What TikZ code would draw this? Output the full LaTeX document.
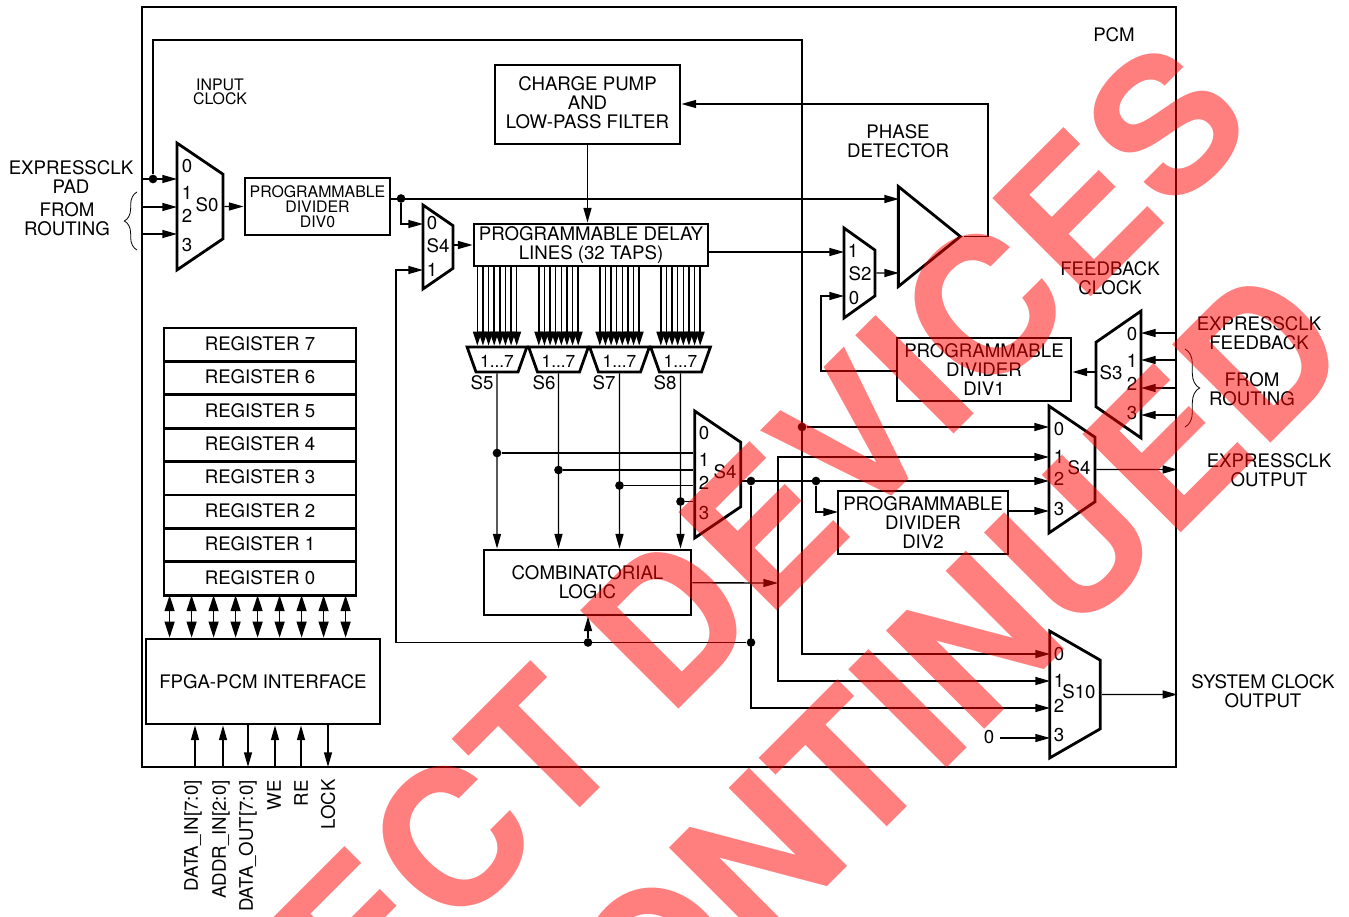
\documentclass[tikz,border=0pt]{standalone}
\usepackage{fontspec}
\setmainfont{TeX Gyre Heros}
\usepackage{tikz}
\usetikzlibrary{arrows.meta,positioning,calc,shapes.geometric,decorations.pathreplacing}

\begin{document}
\begin{tikzpicture}[
  x=0.75pt, y=-0.75pt,
  lbl/.style={inner sep=0pt, align=center, font=\fontsize{14}{14}\selectfont},
  tiny/.style={inner sep=0pt, align=center, font=\fontsize{11.9}{11}\selectfont},
  blk/.style={draw, line width=2.1pt, inner sep=0pt, align=center, font=\fontsize{14}{14}\selectfont},
  reg/.style={blk, minimum width=144pt, minimum height=25.05pt, outer sep=0pt, text depth=2pt},
  mux/.style={draw, line width=2.1pt, trapezium, trapezium stretches, trapezium angle=61, inner sep=0pt, minimum width=95.25pt, minimum height=34.5pt, shape border rotate=270},
  tapsel/.style={draw, line width=2.1pt, trapezium, trapezium stretches, trapezium angle=66, inner sep=0pt, minimum width=45pt, minimum height=18.75pt, shape border rotate=180, text height=12pt, font=\fontsize{13}{13}\selectfont},
  dot/.style={circle, fill=black, inner sep=0pt, minimum size=6.5pt},
  wire/.style={line width=1pt},
  arr/.style={wire, -{Triangle[length=11pt,width=6pt]}},
  tap/.style={line width=1.1pt, -{Triangle[length=10.5pt,width=6.5pt]}},
  bus/.style={wire, {Triangle[length=12pt,width=7.5pt]}-{Triangle[length=12pt,width=7.5pt]}},
  wmark/.style={text=red, text opacity=0.5, inner sep=0pt, rotate=45, font=\bfseries\fontsize{143}{143}\selectfont}
]
  \useasboundingbox (0,0) rectangle (1349,917);

  \node[draw, line width=2.1pt, inner sep=0pt, minimum width=775.5pt, minimum height=570pt] (pcm) at (659,387) {};

  % blocks
  \node[blk, minimum width=138.75pt, minimum height=59.25pt, text depth=3pt] (pump) at (587.5,104.5) {CHARGE PUMP\\AND\\LOW-PASS FILTER};
  \node[blk, minimum width=108.75pt, minimum height=42.75pt, font=\fontsize{11.9}{11.25}\selectfont] (div0) at (317.5,206.5) {PROGRAMMABLE\\DIVIDER\\DIV0};
  \node[blk, minimum width=175.5pt, minimum height=31.5pt] (dly) at (591,245) {PROGRAMMABLE DELAY\\LINES (32 TAPS)};
  \node[blk, minimum width=130.5pt, minimum height=47.25pt] (div1) at (984,369.5) {PROGRAMMABLE\\DIVIDER\\DIV1};
  \node[blk, minimum width=127.5pt, minimum height=47.25pt] (div2) at (923,522.5) {PROGRAMMABLE\\DIVIDER\\DIV2};
  \node[blk, minimum width=155.25pt, minimum height=48.75pt] (logic) at (587.5,582.5) {COMBINATORIAL\\LOGIC};
  \node[blk, minimum width=175.5pt, minimum height=63.75pt] (fpga) at (263,681.5) {FPGA-PCM INTERFACE};

  \node[reg] (reg7) at (260,344.7) {REGISTER 7};
  \node[reg, below=0pt of reg7] (reg6) {REGISTER 6};
  \node[reg, below=0pt of reg6] (reg5) {REGISTER 5};
  \node[reg, below=0pt of reg5] (reg4) {REGISTER 4};
  \node[reg, below=0pt of reg4] (reg3) {REGISTER 3};
  \node[reg, below=0pt of reg3] (reg2) {REGISTER 2};
  \node[reg, below=0pt of reg2] (reg1) {REGISTER 1};
  \node[reg, below=0pt of reg1] (reg0) {REGISTER 0};

  \node[draw, line width=2.1pt, isosceles triangle, isosceles triangle stretches, inner sep=0pt, minimum width=75pt, minimum height=46.5pt, anchor=apex] (pd) at (964,236.5) {\phantom{S}};

  % muxes
  \node[mux, minimum height=34.5pt] (s0) at (200,206.5) {\phantom{S}};
  \node[mux, minimum width=63pt, minimum height=22.5pt] (s4a) at (438,247) {\phantom{S}};
  \node[mux, minimum width=67.5pt, minimum height=23.25pt] (s2) at (859.5,273) {\phantom{S}};
  \node[mux, shape border rotate=90, minimum height=33.75pt] (s3) at (1118.5,374.5) {\phantom{S}};
  \node[mux] (s4b) at (1072,469.5) {\phantom{S}};
  \node[mux] (s4c) at (717.75,474.5) {\phantom{S}};
  \node[mux, minimum height=38pt, trapezium angle=64] (s10) at (1075,694.5) {\phantom{S}};

  \node[tapsel] (s5) at (497,359.5) {1...7};
  \node[tapsel] (s6) at (558.5,359.5) {1...7};
  \node[tapsel] (s7) at (619.5,359.5) {1...7};
  \node[tapsel] (s8) at (680.5,359.5) {1...7};

  % port labels
  \node[lbl] (s0n) at (207,205) {S0};
  \node[lbl] (s0a) at (187,166) {0};
  \node[lbl] (s0b) at (187,193) {1};
  \node[lbl] (s0c) at (187,216) {2};
  \node[lbl] (s0d) at (187,245) {3};
  \node[lbl] (s4an) at (438,246) {S4};
  \node[lbl] (s4aa) at (432,223) {0};
  \node[lbl] (s4ab) at (432,270) {1};
  \node[lbl] (s2n) at (860,274) {S2};
  \node[lbl] (s2a) at (853,251) {1};
  \node[lbl] (s2b) at (854,298) {0};
  \node[lbl] (s3n) at (1111,373) {S3};
  \node[lbl] (s3a) at (1132,334) {0};
  \node[lbl] (s3b) at (1132,361) {1};
  \node[lbl] (s3c) at (1132,384) {2};
  \node[lbl] (s3d) at (1132,413) {3};
  \node[lbl] (s4bn) at (1079,468) {S4};
  \node[lbl] (s4ba) at (1059,429) {0};
  \node[lbl] (s4bb) at (1059,457) {1};
  \node[lbl] (s4bc) at (1059,479) {2};
  \node[lbl] (s4bd) at (1059,509) {3};
  \node[lbl] (s4cn) at (725,472) {S4};
  \node[lbl] (s4ca) at (704,433) {0};
  \node[lbl] (s4cb) at (704,460) {1};
  \node[lbl] (s4cc) at (704,483) {2};
  \node[lbl] (s4cd) at (704,513) {3};
  \node[lbl] (s10n) at (1079,692) {S10};
  \node[lbl] (s10a) at (1059,654) {0};
  \node[lbl] (s10b) at (1059,681) {1};
  \node[lbl] (s10c) at (1059,706) {2};
  \node[lbl] (s10d) at (1059,735) {3};
  \node[lbl] (s5n) at (482,383) {S5};
  \node[lbl] (s6n) at (544,383) {S6};
  \node[lbl] (s7n) at (604,383) {S7};
  \node[lbl] (s8n) at (665,383) {S8};

  % outside and free labels
  \node[lbl] (pcmn) at (1114,35) {PCM};
  \node[tiny] (inclkn) at (220,92) {INPUT\\CLOCK};
  \node[lbl] (padn) at (71,177) {EXPRESSCLK\\PAD};
  \node[lbl] (fromn) at (67,219) {FROM\\ROUTING};
  \node[lbl] (phasen) at (898,141) {PHASE\\DETECTOR};
  \node[lbl] (fbclkn) at (1110,278) {FEEDBACK\\CLOCK};
  \node[lbl] (fbpadn) at (1259,333) {EXPRESSCLK\\FEEDBACK};
  \node[lbl] (from2n) at (1252,389) {FROM\\ROUTING};
  \node[lbl] (outn) at (1269,470) {EXPRESSCLK\\OUTPUT};
  \node[lbl] (sysn) at (1263,691) {SYSTEM CLOCK\\OUTPUT};
  \node[lbl] (zero) at (989,737) {0};
  \node[lbl, rotate=90, anchor=east] (dinn) at (193,780) {DATA\_IN[7:0]};
  \node[lbl, rotate=90, anchor=east] (addrn) at (221,780) {ADDR\_IN[2:0]};
  \node[lbl, rotate=90, anchor=east] (doutn) at (248,780) {DATA\_OUT[7:0]};
  \node[lbl, rotate=90, anchor=east] (wen) at (274,780) {WE};
  \node[lbl, rotate=90, anchor=east] (ren) at (301,780) {RE};
  \node[lbl, rotate=90, anchor=east] (lockn) at (328,779) {LOCK};

  % junctions and ports
  \node[dot] (inclk) at (153,179) {};
  \node[dot] (d0) at (401,198.5) {};
  \node[dot] (dclk) at (802,427) {};
  \node[dot] (dsel) at (751,481) {};
  \node[dot] (dd2) at (816,481) {};
  \node[dot] (dr) at (751,642.5) {};
  \node[dot] (dl) at (588,642.5) {};
  \node[dot] (t5) at (497,453) {};
  \node[dot] (t6) at (558.5,470) {};
  \node[dot] (t7) at (619.5,485.5) {};
  \node[dot] (t8) at (680.5,501.5) {};

  \coordinate (s0i0) at (177,179);
  \coordinate (s0i1) at (177,207);
  \coordinate (s0i2) at (177,234);
  \coordinate (clktop) at (802,40);
  \coordinate (s4ai0) at (423,224);
  \coordinate (s4ai1) at (423,270);
  \coordinate (fbcorner) at (396,642.5);
  \coordinate (pdi0) at (899,199);
  \coordinate (s2i1) at (844,252);
  \coordinate (s2i0) at (844,296);
  \coordinate (fbr) at (988,104);
  \coordinate (d1c) at (821,371);
  \coordinate (s3o) at (1096,372);
  \coordinate (s3i0) at (1141,333);
  \coordinate (s3i1) at (1141,360);
  \coordinate (s3i2) at (1141,388);
  \coordinate (s3i3) at (1141,415);
  \coordinate (s4bi0) at (1049,427);
  \coordinate (s4bi1) at (1049,457);
  \coordinate (s4bi2) at (1049,481);
  \coordinate (s4bi3) at (1049,511);
  \coordinate (div2i) at (838,512);
  \coordinate (bus1) at (778,583);
  \coordinate (s10i0) at (1050,654);
  \coordinate (s10i1) at (1050,681);
  \coordinate (s10i2) at (1050,708);
  \coordinate (s10i3) at (1050,738);
  \coordinate (bin) at (195,767);
  \coordinate (badr) at (223,767);
  \coordinate (bout) at (248,767);
  \coordinate (bwe) at (275,767);
  \coordinate (bre) at (301,767);
  \coordinate (block) at (328,767);

  % connectors
  \draw[arr] (pcm.west |- s0i0) -- (s0i0);
  \draw[arr] (pcm.west |- s0i1) -- (s0i1);
  \draw[arr] (pcm.west |- s0i2) -- (s0i2);
  \draw[arr] (inclk) |- (clktop) |- (s10i0);
  \draw[arr] (dclk) -- (s4bi0);
  \draw[arr] (s0) -- (div0);
  \draw[arr] (div0.east |- pdi0) -- (pdi0);
  \draw[arr] (d0) |- (s4ai0);
  \draw[arr] (dr) -- (fbcorner) |- (s4ai1);
  \draw[arr] (dl) -- (dl |- logic.south);
  \draw[arr] (s4a.east |- dly.west) -- (dly.west);
  \draw[arr] (pump.south) -- (pump.south |- dly.north);
  \draw[arr] (dly.east |- s2i1) -- (s2i1);
  \draw[arr] (s2) -- (pdi0 |- s2);
  \draw[arr] (pd.apex) -| (fbr) -- (fbr -| pump.east);
  \draw[arr] (d1c -| div1.west) -- (d1c) |- (s2i0);
  \draw[arr] (s3o) -- (s3o -| div1.east);
  \draw[arr] (s3i0 -| pcm.east) -- (s3i0);
  \draw[arr] (s3i1 -| pcm.east) -- (s3i1);
  \draw[arr] (s3i2 -| pcm.east) -- (s3i2);
  \draw[arr] (s3i3 -| pcm.east) -- (s3i3);
  \draw[arr] (s4c.east |- dsel) -- (s4bi2);
  \draw[arr] (dd2) |- (div2i);
  \draw[arr] (dsel) |- (s10i2);
  \draw[arr] (s4bi3 -| div2.east) -- (s4bi3);
  \draw[arr] (logic) -- (bus1);
  \draw[arr] (bus1) |- (s4bi1);
  \draw[arr] (bus1) |- (s10i1);
  \draw[arr] (s4b) -- (s4b -| pcm.east);
  \draw[arr] (s10) -- (s10 -| pcm.east);
  \draw[arr] (s10i3 -| zero.east) ++(6,0) -- (s10i3);
  \draw[arr] (s5) -- (s5 |- logic.north);
  \draw[arr] (s6) -- (s6 |- logic.north);
  \draw[arr] (s7) -- (s7 |- logic.north);
  \draw[arr] (s8) -- (s8 |- logic.north);
  \draw[wire] (t5) -- (t5 -| s4c.west);
  \draw[wire] (t6) -- (t6 -| s4c.west);
  \draw[wire] (t7) -- (t7 -| s4c.west);
  \draw[wire] (t8) -- (t8 -| s4c.west);
  \draw[arr] (bin) -- (bin |- fpga.south);
  \draw[arr] (badr) -- (badr |- fpga.south);
  \draw[arr] (bout |- fpga.south) -- (bout);
  \draw[arr] (bwe) -- (bwe |- fpga.south);
  \draw[arr] (bre) -- (bre |- fpga.south);
  \draw[arr] (block |- fpga.south) -- (block);

  \foreach \i in {0,...,8} {
    \path ($(fpga.north west)+({25+22*\i},0)$) coordinate (rx);
    \draw[bus] (rx |- reg0.south) -- (rx);
  }
  \foreach \s in {s5,s6,s7,s8} {
    \foreach \k in {0,...,7} {
      \path ($(\s.north)+({(\k-3.5)*5.63},0)$) coordinate (tapx);
      \draw[tap] (tapx |- dly.south) -- (tapx);
    }
  }

  \coordinate (brl1) at (137,250);
  \coordinate (brl2) at (137,192);
  \coordinate (brr1) at (1185,349);
  \coordinate (brr2) at (1185,427);
  \draw[decorate, decoration={brace, amplitude=9.5pt}, line width=0.6pt] (brl1) -- (brl2);
  \draw[decorate, decoration={brace, amplitude=11pt}, line width=0.6pt] (brr1) -- (brr2);

  % overprint
  \node[wmark, anchor=base east] (wm1) at (1260.75,127.25) {SELECT DEVICES};
  \node[wmark, anchor=base east] (wm2) at (1357.5,356.5) {DISCONTINUED};
\end{tikzpicture}
\end{document}
